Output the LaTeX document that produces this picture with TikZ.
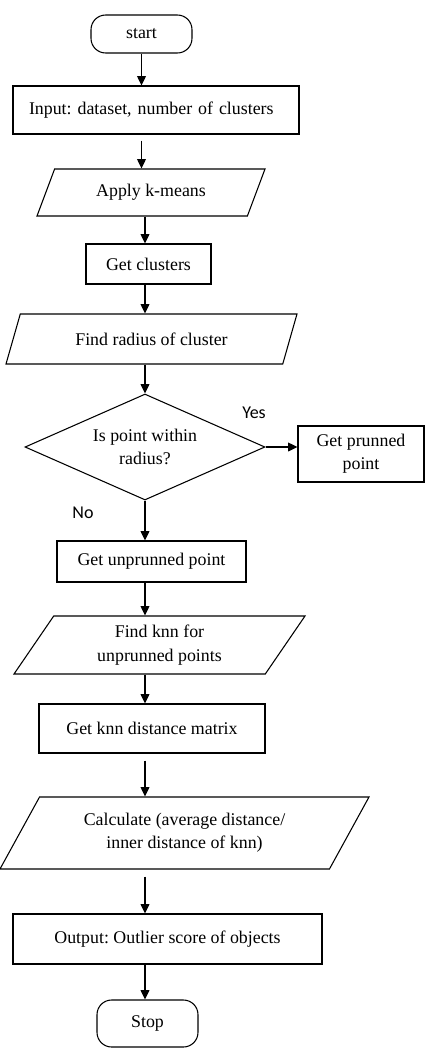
\documentclass[tikz,border=0pt]{standalone}
\usepackage{fontspec}
\setmainfont{Liberation Serif}
\newfontfamily\labelfont{Carlito}
\usetikzlibrary{shapes.geometric, arrows.meta}
\frenchspacing

\begin{document}
\begin{tikzpicture}[x=0.75pt, y=-0.75pt, font=\fontsize{13.4}{17.5}\selectfont]

% definitions
\tikzstyle{terminal} = [rectangle, rounded corners=11pt, minimum width=75.75pt, draw=black, line width=0.8pt, text centered]

\tikzstyle{process} = [rectangle, draw=black, line width=0.8pt, text centered, align=center]

\tikzstyle{io} = [trapezium, trapezium stretches body, draw=black, line width=0.8pt, text centered, align=center, inner sep=0pt]

\tikzstyle{decision} = [diamond, aspect=2.26, draw=black, line width=0.8pt, align=center, inner sep=0pt, minimum width=180pt, minimum height=79.5pt]

\tikzstyle{answer} = [font=\labelfont\fontsize{13.5}{16}\selectfont]

\tikzstyle{arrow} = [->, >={Triangle[length=7pt, width=6.5pt]}, line width=1.1pt]

\useasboundingbox (0,0) rectangle (427,1054);

% the graph
\node (start) [terminal, minimum height=28.5pt] at (141.5,34) {start};

\node (input) [process, minimum width=214.5pt, minimum height=36pt, text width=190.5pt, align=left] at (156,110) {Input: dataset, number of clusters};

\node (kmeans) [io, trapezium left angle=42.7, trapezium right angle=137.3, minimum width=171pt, minimum height=35.25pt] at (151,192.5) {Apply k-means};

\node (clusters) [process, minimum width=93.75pt, minimum height=30pt] at (148.5,264) {Get clusters};

\node (radius) [io, trapezium left angle=41.8, trapezium right angle=138.2, minimum width=218.25pt, minimum height=37.5pt] at (151.5,339) {Find radius of cluster};

\node (within) [decision] at (145,447) {Is point within\\radius?};

\node (pruned) [process, minimum width=94.5pt, minimum height=42pt] at (361,454) {Get prunned\\point};

\node (unpruned) [process, minimum width=141.75pt, minimum height=30.75pt] at (151.5,561.5) {Get unprunned point};

\node (knn) [io, trapezium left angle=45, trapezium right angle=135, minimum width=218.25pt, minimum height=43.5pt] at (159.5,645) {Find knn for\\unprunned points};

\node (dmat) [process, minimum width=169.5pt, minimum height=36.75pt] at (152,728.5) {Get knn distance matrix};

\node (calc) [io, trapezium left angle=45, trapezium right angle=135, minimum width=276.75pt, minimum height=54pt] at (184.5,833) {Calculate (average distance/\\inner distance of knn)};

\node (output) [process, minimum width=231.75pt, minimum height=37.5pt] at (167.5,939) {Output: Outlier score of objects};

\node (stop) [terminal, minimum height=35.25pt] at (147.5,1023.5) {Stop};

\node (yes) [answer] at (254,413) {Yes};
\node (no) [answer] at (83,513) {No};

\draw [arrow] (start.south) -- (start.south |- input.north);
\draw [arrow] ([yshift=-4.5pt]input.south -| start) -- (kmeans.north -| start);
\draw [arrow] (kmeans.south -| within) -- (clusters.north -| within);
\draw [arrow] (clusters.south -| within) -- (radius.north -| within);
\draw [arrow] (radius.south -| within) -- (within.north);
\draw [arrow] (within.east) -- (within.east -| pruned.west);
\draw [arrow] (within.south) -- (unpruned.north -| within);
\draw [arrow] (unpruned.south -| within) -- (knn.north -| within);
\draw [arrow] (knn.south -| within) -- (dmat.north -| within);
\draw [arrow] ([yshift=-5.25pt]dmat.south -| within) -- (calc.north -| within);
\draw [arrow] ([yshift=-5.25pt]calc.south -| within) -- (output.north -| within);
\draw [arrow] (output.south -| within) -- (stop.north -| within);

\end{tikzpicture}
\end{document}
